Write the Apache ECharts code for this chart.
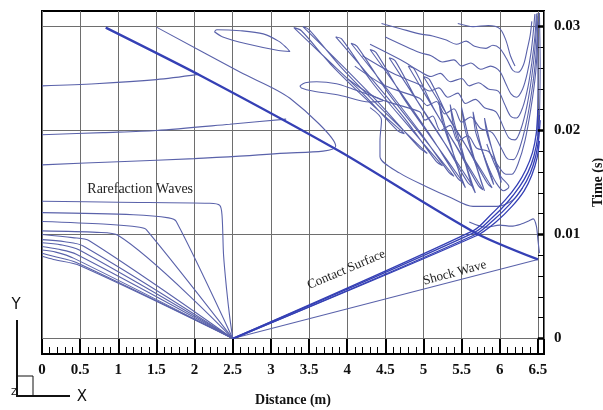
<!DOCTYPE html>
<html><head><meta charset="utf-8">
<script src="https://cdn.jsdelivr.net/npm/echarts@6/dist/echarts.min.js"></script>
<style>html,body{margin:0;padding:0;background:#fff}#c{width:603px;height:410px}</style>
</head><body><div id="c"></div>
<script>
// ---- axes ----
const xMin = 0, xMax = 6.58, xStep = 0.5, xBandStart = 6.5;
const yMin = -0.0015, yMax = 0.0315;
const yMajorTicks = [0, 0.01, 0.02, 0.03];
const yMinorTicks = [0.002,0.004,0.006,0.008,0.012,0.014,0.016,0.018,0.022,0.024,0.026,0.028];

// ---- main waves ----
const reflectedShock = [[0.835,0.0299],[2.1,0.0252],[3.9,0.0180],[5.67,0.0102],[6.5,0.0076]];
const shockWave = [[2.5,0],[6.5,0.0076]];
const contact1 = [[2.5,0],[5.67,0.0102],[5.9,0.0116],[6.1,0.0131],[6.26,0.0146],[6.37,0.0160],[6.45,0.0176],[6.5,0.0195],[6.52,0.0215]];
const contact2 = [[2.52,0],[5.68,0.0100],[5.92,0.0114],[6.13,0.0129],[6.29,0.0144],[6.4,0.0159],[6.47,0.0175],[6.51,0.0192],[6.53,0.021]];
const contact3 = [[2.5,0],[5.66,0.0104],[5.87,0.0118],[6.07,0.0133],[6.23,0.0148],[6.34,0.0162],[6.43,0.0179],[6.48,0.0198],[6.5,0.022]];
const contact4 = [[2.55,0.0001],[5.7,0.0099],[5.95,0.0112],[6.16,0.0127],[6.32,0.0142],[6.42,0.0157],[6.49,0.0174],[6.52,0.019]];
const wall1 = [[6.49,0.0195],[6.5,0.025],[6.49,0.0313]];
const wall2 = [[6.52,0.021],[6.53,0.026],[6.52,0.0313]];

// ---- rarefaction fan ----
const rf1 = [[2.5,0],[2.46,0.0021],[2.42,0.0047],[2.38,0.0080],[2.36,0.0118],[2.33,0.0128],[2.2,0.0130],[1.0,0.0131],[0,0.0132]];
const rf2 = [[2.5,0],[1.76,0.01125],[1.66,0.0116],[1.2,0.0119],[0,0.0121]];
const rf3 = [[2.5,0],[1.37,0.01045],[1.28,0.0107],[0.8,0.0110],[0,0.01125]];
const rf4 = [[2.5,0],[1.0,0.0099],[0.72,0.0102],[0,0.01035]];
const rf5 = [[2.5,0],[0.62,0.0094],[0.4,0.0097],[0,0.0100]];
const rf6 = [[2.5,0],[0.54,0.0089],[0.3,0.0093],[0,0.0095]];
const rf7 = [[2.5,0],[0.49,0.0085],[0.25,0.0090],[0,0.0092]];
const rf8 = [[2.5,0],[0.45,0.0081],[0.2,0.0086],[0,0.00885]];
const rf9 = [[2.5,0],[0.42,0.0077],[0.18,0.0083],[0,0.0085]];
const rf10 = [[2.5,0],[0.45,0.0073],[0.15,0.0079],[0,0.0082]];
const rf11 = [[2.5,0],[0.5,0.0070],[0.15,0.0076],[0,0.0079]];

// ---- upper-left contours ----
const ul1 = [[0,0.0243],[0.7,0.0245],[1.5,0.0249],[2.05,0.0254]];
const ul2 = [[0,0.0196],[0.8,0.0198],[1.5,0.0200],[2.46,0.0206],[3.2,0.0211]];
const ul3 = [[0,0.0167],[1.0,0.0170],[2.0,0.0173],[3.12,0.0178],[3.85,0.0185],[3.25,0.0231],[2.6,0.0256],[1.5,0.02995]];
const loopA = [[2.26,0.0295],[2.29,0.0297],[2.6,0.0296],[2.9,0.0293],[3.1,0.0286],[3.2,0.0280],[3.25,0.0276],[3.1,0.0277],[2.68,0.02835],[2.37,0.0290],[2.26,0.0295]];
const loopB = [[3.38,0.0243],[3.45,0.0246],[3.6,0.0247],[3.86,0.0245],[4.07,0.0240],[4.38,0.0232],[4.47,0.0229],[4.29,0.02275],[3.9,0.0234],[3.55,0.0238],[3.4,0.0241],[3.38,0.0243]];

// ---- diagonal fingers ----
const f1 = [[3.30,0.0299],[3.40,0.0296],[3.78,0.0264],[4.28,0.0228],[4.75,0.0197],[4.66,0.0200],[4.2,0.0236],[3.7,0.0271],[3.30,0.0299]];
const f2 = [[3.42,0.0300],[3.50,0.0297],[3.93,0.0260],[4.53,0.0215],[5.05,0.0178],[4.95,0.0183],[4.46,0.0223],[3.86,0.0268],[3.42,0.0300]];
const f3 = [[3.85,0.0290],[3.93,0.0288],[4.33,0.0246],[4.83,0.0202],[5.25,0.0166],[5.17,0.0170],[4.76,0.0211],[4.26,0.0255],[3.85,0.0290]];
const f4 = [[4.05,0.0284],[4.13,0.0281],[4.53,0.0237],[5.03,0.0190],[5.40,0.0156],[5.33,0.0160],[4.96,0.0198],[4.46,0.0246],[4.05,0.0284]];
const f5 = [[4.3,0.0278],[4.38,0.0275],[4.73,0.0232],[5.18,0.0185],[5.52,0.0150],[5.45,0.0154],[5.11,0.0193],[4.66,0.0241],[4.3,0.0278]];
const f6 = [[4.55,0.0270],[4.63,0.0267],[4.93,0.0227],[5.33,0.0182],[5.65,0.0146],[5.58,0.0150],[5.26,0.0190],[4.86,0.0235],[4.55,0.0270]];
const f7 = [[4.8,0.0262],[4.88,0.0259],[5.13,0.0222],[5.48,0.0179],[5.78,0.0143],[5.72,0.0147],[5.41,0.0187],[5.06,0.0230],[4.8,0.0262]];
const f8 = [[5.0,0.0252],[5.08,0.0249],[5.33,0.0212],[5.63,0.0177],[5.9,0.0145],[5.84,0.0149],[5.56,0.0185],[5.26,0.0221],[5.0,0.0252]];
const f9 = [[5.75,0.0185],[5.85,0.0165],[5.95,0.0150],[6.05,0.0142],[6.12,0.0146],[6.02,0.0155],[5.93,0.0168],[5.83,0.0187]];
const g1 = [[5.2,0.0228],[5.28,0.0205],[5.36,0.0186],[5.44,0.0166],[5.55,0.0145],[5.5,0.0152],[5.42,0.0172],[5.33,0.0190],[5.25,0.0208],[5.2,0.0228]];
const g2 = [[5.35,0.0225],[5.42,0.0203],[5.5,0.0183],[5.58,0.0162],[5.68,0.0140],[5.63,0.0148],[5.55,0.0168],[5.46,0.0188],[5.39,0.0206],[5.35,0.0225]];
const g3 = [[5.5,0.0222],[5.57,0.0200],[5.64,0.0180],[5.72,0.0160],[5.8,0.0142],[5.76,0.0150],[5.69,0.0166],[5.61,0.0184],[5.54,0.0203],[5.5,0.0222]];
const g4 = [[5.65,0.0218],[5.71,0.0198],[5.78,0.0178],[5.85,0.0162],[5.92,0.0148],[5.89,0.0156],[5.82,0.0170],[5.75,0.0184],[5.68,0.0200],[5.65,0.0218]];
const g5 = [[5.8,0.0212],[5.86,0.0193],[5.92,0.0176],[5.97,0.0162],[6.02,0.0150],[6.0,0.0158],[5.95,0.0170],[5.89,0.0184],[5.83,0.0198],[5.8,0.0212]];

// ---- wavy U contours (upper right) ----
const w0 = [[5.45,0.0303],[5.65,0.0300],[5.85,0.0301],[6.0,0.0298],[6.08,0.0287],[6.14,0.0272],[6.2,0.0262]];
const w1 = [[4.45,0.0303],[4.7,0.0298],[4.95,0.0293],[5.12,0.0291],[5.30,0.0287],[5.43,0.0283],[5.56,0.0286],[5.67,0.0281],[5.82,0.0279],[5.91,0.0282],[6.0,0.0279],[6.09,0.0269],[6.17,0.0258],[6.24,0.0256],[6.31,0.0263],[6.36,0.0278],[6.4,0.0292],[6.42,0.0305]];
const w2 = [[4.5,0.0290],[4.95,0.0275],[5.1,0.0272],[5.25,0.0266],[5.4,0.0268],[5.5,0.0262],[5.62,0.0265],[5.75,0.0259],[5.88,0.0262],[6.0,0.0257],[6.08,0.0245],[6.15,0.0235],[6.22,0.0232],[6.3,0.0240],[6.36,0.0255],[6.41,0.0275],[6.44,0.0295],[6.46,0.0312]];
const w3 = [[4.3,0.0283],[4.7,0.0268],[4.95,0.0257],[5.1,0.0252],[5.22,0.0255],[5.35,0.0247],[5.5,0.0250],[5.6,0.0243],[5.72,0.0246],[5.85,0.0240],[5.98,0.0238],[6.06,0.0226],[6.14,0.0214],[6.22,0.0212],[6.3,0.0222],[6.37,0.0242],[6.42,0.0265],[6.46,0.0290],[6.48,0.0312]];
const w4 = [[4.2,0.0272],[4.6,0.0255],[4.95,0.0244],[5.08,0.0238],[5.2,0.0241],[5.32,0.0232],[5.45,0.0236],[5.55,0.0226],[5.68,0.0230],[5.8,0.0222],[5.95,0.0218],[6.05,0.0203],[6.12,0.0193],[6.2,0.0191],[6.28,0.0202],[6.36,0.0225],[6.42,0.0252],[6.46,0.0278],[6.49,0.0310]];
const w5 = [[4.1,0.0262],[4.5,0.0243],[4.95,0.0231],[5.05,0.0224],[5.17,0.0228],[5.28,0.0216],[5.4,0.0221],[5.5,0.0208],[5.62,0.0213],[5.75,0.0202],[5.9,0.0198],[6.02,0.0183],[6.1,0.0173],[6.18,0.0172],[6.26,0.0183],[6.35,0.0208],[6.42,0.0238],[6.47,0.0268],[6.5,0.0305]];
const w6 = [[4.0,0.0250],[4.4,0.0231],[4.95,0.0218],[5.02,0.0210],[5.12,0.0214],[5.22,0.0200],[5.35,0.0205],[5.45,0.0190],[5.58,0.0195],[5.7,0.0183],[5.85,0.0180],[5.98,0.0166],[6.08,0.0158],[6.16,0.0158],[6.24,0.0168],[6.33,0.0190],[6.41,0.0222],[6.47,0.0255],[6.5,0.0290]];
const boundary = [[4.3,0.0222],[4.45,0.0210],[4.43,0.0190],[4.43,0.0175],[4.69,0.0159],[5.04,0.0146],[5.34,0.0136],[5.65,0.0127],[5.96,0.0127],[6.17,0.0133],[6.3,0.0145]];
const crossContour = [[5.6,0.0112],[5.82,0.0107],[6.0,0.0109],[6.15,0.0108],[6.28,0.0110],[6.38,0.0113],[6.44,0.0115],[6.48,0.0108],[6.5,0.0095],[6.52,0.0082]];

// ---- annotations (data coords) ----
const annotations = [
  {text:'Rarefaction Waves', x:1.287, y:0.01438, angle:0, size:14},
  {text:'Contact Surface', x:3.99, y:0.00662, angle:23, size:13},
  {text:'Shock Wave', x:5.41, y:0.0063, angle:15, size:13}
];

const THIN = '#5a62aa', THICK = '#3540b5', GRID = '#6e6e6e';
function line(data, color, width, smooth, z) {
  return {type:'line', data:data, showSymbol:false, symbol:'none', smooth:smooth||0,
    lineStyle:{color:color, width:width}, silent:true, animation:false, z:z||3, clip:true};
}
const thinSets = [rf1,rf2,rf3,rf4,rf5,rf6,rf7,rf8,rf9,rf10,rf11,ul1,ul2,ul3,loopA,loopB,
  f1,f2,f3,f4,f5,f6,f7,f8,f9,g1,g2,g3,g4,g5,w0,w1,w2,w3,w4,w5,w6,boundary,crossContour,wall1,wall2];
const series = [];
const gridSeries = line(shockWave, THIN, 1.1, 0, 3);
gridSeries.markLine = {silent:true, symbol:'none', animation:false, label:{show:false},
  lineStyle:{color:GRID, width:1, type:'solid'}, z:1,
  data: yMajorTicks.map(v => ({yAxis:v}))};
series.push(gridSeries);
thinSets.forEach(d => series.push(line(d, THIN, 1.1, 0.3, 3)));
[contact1,contact2,contact3,contact4].forEach(d => series.push(line(d, THICK, 1.3, 0.3, 4)));
series.push(line(reflectedShock, THICK, 2.3, 0.25, 5));
// thick major tick marks inside the right band
yMajorTicks.forEach(v => series.push(line([[xBandStart, v],[xMax, v]], '#000', 2.5, 0, 6)));

const serif = 'Liberation Serif';
const option = {
  animation:false,
  backgroundColor:'#fff',
  grid:{left:42, right:59, top:11, bottom:56, outerBoundsMode:'none', containLabel:false,
    show:true, borderColor:'#000', borderWidth:2, backgroundColor:'rgba(0,0,0,0)'},
  xAxis:{type:'value', min:xMin, max:xMax, interval:xStep,
    name:'Distance (m)', nameLocation:'middle', nameGap:39,
    nameTextStyle:{fontFamily:serif, fontWeight:'bold', fontSize:14, color:'#111'},
    axisLine:{show:true, onZero:false, lineStyle:{color:'#000', width:2}},
    axisTick:{show:true, inside:true, length:15, lineStyle:{color:'#000', width:2}},
    minorTick:{show:true, splitNumber:5, length:7, lineStyle:{color:'#000', width:1}},
    splitLine:{show:true, lineStyle:{color:GRID, width:1}},
    axisLabel:{showMaxLabel:false, margin:9, fontFamily:serif, fontWeight:'bold', fontSize:15, color:'#111'}},
  yAxis:{type:'value', position:'right', min:yMin, max:yMax,
     name:'Time (s)', nameLocation:'middle', nameGap:45, nameRotate:90,
     nameTextStyle:{fontFamily:serif, fontWeight:'bold', fontSize:14, color:'#111'},
     axisLine:{show:false, onZero:false}, splitLine:{show:false},
     axisTick:{show:true, inside:true, length:6, customValues:yMinorTicks, lineStyle:{color:'#000', width:1}},
     axisLabel:{customValues:yMajorTicks, margin:10, fontFamily:serif, fontWeight:'bold', fontSize:15, color:'#111',
       formatter: v => String(v)}},
  series: series
};
const chart = echarts.init(document.getElementById('c'), null, {renderer:'canvas'});
chart.setOption(option);

const g = [];
annotations.forEach(a => {
  const p = chart.convertToPixel({gridIndex:0}, [a.x, a.y]);
  g.push({type:'text', x:p[0], y:p[1], rotation:a.angle*Math.PI/180, z:10,
    style:{text:a.text, fontFamily:serif, fontSize:a.size, fill:'#222', align:'center', verticalAlign:'middle'}});
});
// coordinate triad icon (bottom-left)
g.push({type:'polyline', shape:{points:[[17,320],[17,396],[70,396]]}, style:{stroke:'#111', lineWidth:2, fill:null}, z:10});
g.push({type:'polyline', shape:{points:[[17,376],[33,376],[33,396]]}, style:{stroke:'#111', lineWidth:1, fill:null}, z:10});
g.push({type:'text', x:16, y:305, style:{text:'Y', fontFamily:'DejaVu Sans', fontSize:15, fill:'#111', align:'center', verticalAlign:'middle'}, z:10});
g.push({type:'text', x:82, y:397, style:{text:'X', fontFamily:'DejaVu Sans', fontSize:15, fill:'#111', align:'center', verticalAlign:'middle'}, z:10});
g.push({type:'text', x:14, y:393, style:{text:'Z', fontFamily:'DejaVu Sans', fontSize:9, fill:'#111', align:'center', verticalAlign:'middle'}, z:10});
chart.setOption({graphic:g});
</script></body></html>
